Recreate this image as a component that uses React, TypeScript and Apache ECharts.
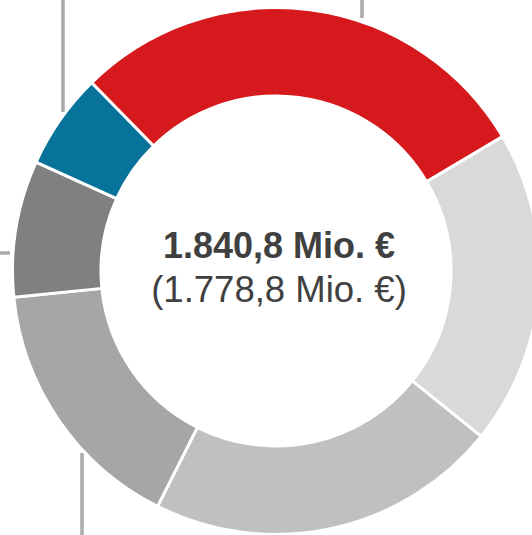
import React, { useEffect, useRef } from "react";
import * as echarts from "echarts";

const categories = ["Segment A", "Segment B", "Segment C", "Segment D", "Segment E", "Segment F"];
const values = [530.5, 355.5, 398.0, 294.5, 154.0, 108.3];
const colors = ["#d6191c", "#d9d9d9", "#c0c0c0", "#a6a6a6", "#808080", "#08739a"];
const totalLabel = "1.840,8 Mio. €";
const prevLabel = "(1.778,8 Mio. €)";

export default function App() {
  const ref = useRef<HTMLDivElement>(null);
  useEffect(() => {
    if (!ref.current) return;
    const chart = echarts.init(ref.current, undefined, { renderer: "svg" });
    const lineStyle = { stroke: "#aaaaaa", lineWidth: 3.5 };
    chart.setOption({
      animation: false,
      graphic: [
        { type: "line", shape: { x1: 63, y1: 0, x2: 63, y2: 112 }, style: lineStyle, z: 0 },
        { type: "line", shape: { x1: 362, y1: 0, x2: 362, y2: 18 }, style: lineStyle, z: 0 },
        { type: "line", shape: { x1: 0, y1: 253, x2: 10, y2: 253 }, style: lineStyle, z: 0 },
        { type: "line", shape: { x1: 82, y1: 453, x2: 82, y2: 535 }, style: lineStyle, z: 0 },
        {
          type: "text",
          x: 279,
          y: 227,
          style: {
            text: totalLabel,
            fill: "#404040",
            font: "bold 36px 'Liberation Sans', Arial, sans-serif",
            textAlign: "center",
          },
          z: 10,
        },
        {
          type: "text",
          x: 279,
          y: 271,
          style: {
            text: prevLabel,
            fill: "#404040",
            font: "36.5px 'Liberation Sans', Arial, sans-serif",
            textAlign: "center",
          },
          z: 10,
        },
      ],
      series: [
        {
          type: "pie",
          center: [276, 271],
          radius: [175, 263.5],
          startAngle: 134.4,
          clockwise: true,
          label: { show: false },
          labelLine: { show: false },
          emphasis: { disabled: true },
          itemStyle: { borderColor: "#ffffff", borderWidth: 3 },
          data: categories.map((name, i) => ({
            name,
            value: values[i],
            itemStyle: { color: colors[i] },
          })),
        },
      ],
    });
    return () => chart.dispose();
  }, []);
  return (
    <div
      ref={ref}
      style={{ position: "absolute", left: 0, top: 0, width: 532, height: 535 }}
    />
  );
}
